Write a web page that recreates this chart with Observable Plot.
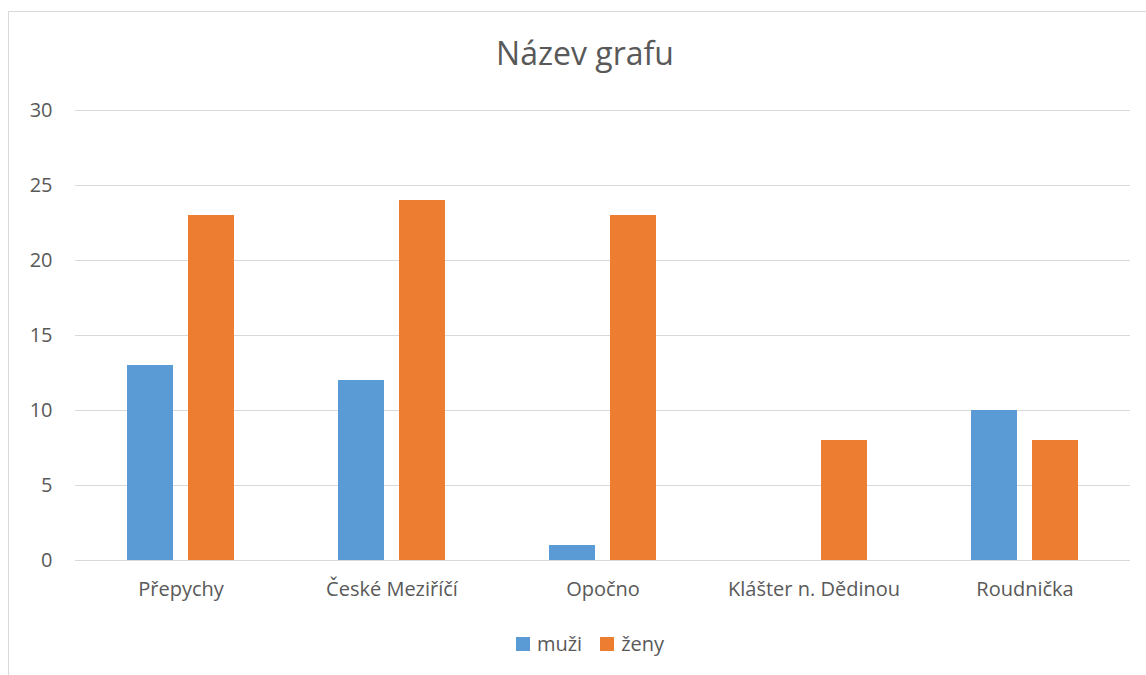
<!DOCTYPE html>
<html>
<head>
<meta charset="utf-8">
<script src="https://cdn.jsdelivr.net/npm/d3@7"></script>
<script src="https://cdn.jsdelivr.net/npm/@observablehq/plot@0.6"></script>
<style>
  html, body { margin: 0; padding: 0; background: #fff; overflow: hidden; }
  #wrap { position: relative; width: 1146px; height: 675px; font-family: "Open Sans", sans-serif; color: #595959; }
  #frame { position: absolute; left: 8px; top: 11px; width: 1200px; height: 700px; border: 1px solid #d9d9d9; box-sizing: border-box; }
  #title { position: absolute; left: 385px; width: 400px; top: 37px; text-align: center; font-size: 32px; line-height: 1; }
  #chart { position: absolute; left: 0; top: 0; }
  #legend { position: absolute; left: 390px; width: 400px; top: 634px; display: flex; justify-content: center; align-items: center; font-size: 20px; line-height: 1; }
  .sw { display: inline-block; width: 14px; height: 14px; margin-right: 7px; }
  .item { display: flex; align-items: center; margin: 0 9px; }
</style>
</head>
<body>
<div id="wrap">
  <div id="frame"></div>
  <div id="chart"></div>
  <div id="title">Název grafu</div>
  <div id="legend"></div>
</div>
<script>
const categories = ["Přepychy", "České Meziříčí", "Opočno", "Klášter n. Dědinou", "Roudnička"];
const series = ["muži", "ženy"];
const muzi = [13, 12, 1, 0, 10];
const zeny = [23, 24, 23, 8, 8];
const yTicks = [0, 5, 10, 15, 20, 25, 30];
const colors = ["#5b9bd5", "#ed7d31"];

const data = categories.flatMap((c, i) => [
  {category: c, series: series[0], value: muzi[i]},
  {category: c, series: series[1], value: zeny[i]}
]);

const chart = Plot.plot({
  width: 1146,
  height: 620,
  marginLeft: 73,
  marginRight: 14,
  marginTop: 110,
  marginBottom: 60,
  style: {fontFamily: "Open Sans, sans-serif", fontSize: "20px", color: "#595959", background: "transparent", overflow: "visible"},
  fx: {domain: categories, padding: 0, label: null},
  x: {domain: series, paddingInner: 0.24, paddingOuter: 0.83, axis: null},
  y: {domain: [0, 30], label: null},
  color: {domain: series, range: colors},
  marks: [
    Plot.gridY(yTicks, {stroke: "#d9d9d9", strokeOpacity: 1, strokeWidth: 1}),
    Plot.axisY(yTicks, {tickSize: 0, tickPadding: 23, label: null, fontSize: 20}),
    Plot.axisFx({anchor: "bottom", tickSize: 0, tickPadding: 21, label: null, fontSize: 20}),
    Plot.barY(data, {fx: "category", x: "series", y: "value", fill: "series"})
  ]
});
document.getElementById("chart").appendChild(chart);

const legend = document.getElementById("legend");
series.forEach((s, i) => {
  const it = document.createElement("div");
  it.className = "item";
  const sw = document.createElement("span");
  sw.className = "sw";
  sw.style.background = colors[i];
  const t = document.createElement("span");
  t.textContent = s;
  it.appendChild(sw);
  it.appendChild(t);
  legend.appendChild(it);
});
</script>
</body>
</html>
